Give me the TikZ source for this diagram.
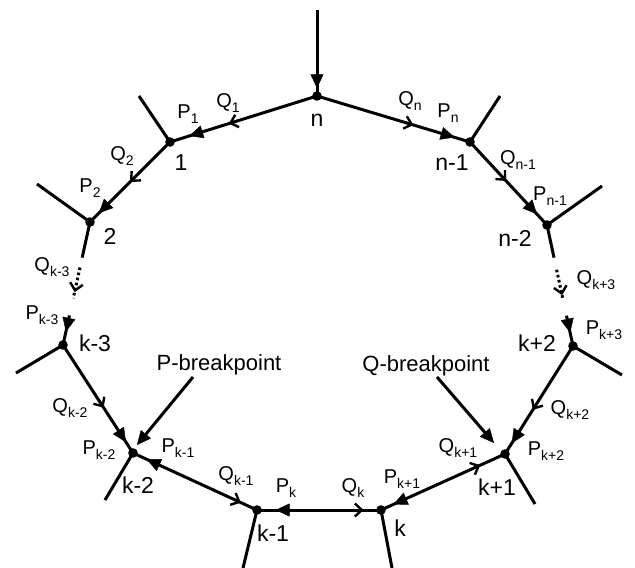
\documentclass[tikz,border=0pt]{standalone}
\usepackage{fontspec}
\setmainfont{Liberation Sans}
\usetikzlibrary{arrows.meta,decorations.markings,calc}

% letter with a lowered, smaller index
\newcommand{\idx}[2]{#1\raisebox{-5pt}{\fontsize{14}{15}\selectfont #2}}

\tikzset{
  ptip/.tip={Triangle[length=14pt,width=13pt,line width=0.4pt]},
  qtip/.tip={Straight Barb[length=7pt,width=13pt,line width=2.4pt]},
  pat/.style={postaction={decorate,decoration={markings,mark=at position #1 with {\arrow{ptip}}}}},
  qat/.style={postaction={decorate,decoration={markings,mark=at position #1 with {\arrow{qtip}}}}},
  prev/.style={postaction={decorate,decoration={markings,mark=at position #1 with {\arrowreversed{ptip}}}}},
  edge/.style={line width=3pt},
  dotseg/.style={line width=3pt,dash pattern=on 2.6pt off 2.6pt},
  elab/.style={font=\fontsize{20}{22}\selectfont,inner sep=0pt},
  vlab/.style={font=\fontsize{23}{26}\selectfont,inner sep=0pt},
  blab/.style={font=\fontsize{22}{24}\selectfont,inner sep=0pt,anchor=base},
  vdot/.style={radius=4.8pt},
}

\begin{document}
\begin{tikzpicture}[x=1pt,y=-1pt]
\useasboundingbox (0,0) rectangle (635,568);

% vertices of the cycle
\coordinate (n)   at (317,96);
\coordinate (v1)  at (170,142);
\coordinate (vn1) at (470,142);
\coordinate (v2)  at (90,222);
\coordinate (vn2) at (547,225);
\coordinate (vk3) at (63,345);
\coordinate (vkp2) at (573,346);
\coordinate (vk2) at (133,453);
\coordinate (vkp1) at (505,454);
\coordinate (vk1) at (257,510);
\coordinate (vk)  at (381,510);

% free ends of the outer edges
\coordinate (top)  at (317,10);
\coordinate (s1)   at (139,96);
\coordinate (sn1)  at (500,96);
\coordinate (s2)   at (37,184);
\coordinate (sn2)  at (602,186);
\coordinate (sk3)  at (16,373);
\coordinate (skp2) at (622,375);
\coordinate (sk2)  at (105,500);
\coordinate (skp1) at (535,504);
\coordinate (sk1)  at (243,568);
\coordinate (sk)   at (392,568);

% outer edges
\draw[edge,pat=0.91] (top) -- (n);
\foreach \a/\b in {v1/s1,vn1/sn1,v2/s2,vn2/sn2,vk3/sk3,vkp2/skp2,vk2/sk2,vkp1/skp1,vk1/sk1,vk/sk}
  \draw[edge] (\a) -- (\b);

% cycle edges
\draw[edge,qat=0.60,pat=0.87] (n) -- (v1);
\draw[edge,qat=0.63,pat=0.90] (n) -- (vn1);
\draw[edge,qat=0.50,pat=0.89] (v1) -- (v2);
\draw[edge,qat=0.47,pat=0.87] (vn1) -- (vn2);
\draw[edge,qat=0.58,pat=0.90] (vk3) -- (vk2);
\draw[edge,qat=0.59,pat=0.90] (vkp2) -- (vkp1);
\draw[edge,qat=0.87,prev=0.11] (vk2) -- (vk1);
\draw[edge,qat=0.86,prev=0.15] (vk1) -- (vk);
\draw[edge,qat=0.80,prev=0.10] (vk) -- (vkp1);

% interrupted edges on both sides
\coordinate (e1) at ($(v2)!0.29!(vk3)$);
\coordinate (e2) at ($(v2)!0.37!(vk3)$);
\coordinate (e3) at ($(v2)!0.62!(vk3)$);
\coordinate (e4) at ($(v2)!0.76!(vk3)$);
\draw[edge] (v2) -- (e1);
\draw[dotseg,qat=0.8] (e2) -- (e3);
\draw[edge,pat=0.55] (e4) -- (vk3);

\coordinate (f1) at ($(vn2)!0.27!(vkp2)$);
\coordinate (f2) at ($(vn2)!0.37!(vkp2)$);
\coordinate (f3) at ($(vn2)!0.62!(vkp2)$);
\coordinate (f4) at ($(vn2)!0.75!(vkp2)$);
\draw[edge] (vn2) -- (f1);
\draw[dotseg,qat=0.84] (f2) -- (f3);
\draw[edge,pat=0.56] (f4) -- (vkp2);

% vertex dots
\foreach \v in {n,v1,vn1,v2,vn2,vk3,vkp2,vk2,vkp1,vk1,vk}
  \fill (\v) circle[vdot];

% breakpoint pointers
\node[blab] (pbt) at (219,370) {P-breakpoint};
\node[blab] (qbt) at (426,371) {Q-breakpoint};
\coordinate (pbs) at (193,377);
\coordinate (pbe) at (137,445);
\coordinate (qbs) at (437,377);
\coordinate (qbe) at (494,443);
\draw[edge,-{Triangle[length=14pt,width=13pt,line width=0.4pt]}] (pbs) -- (pbe);
\draw[edge,-{Triangle[length=14pt,width=13pt,line width=0.4pt]}] (qbs) -- (qbe);

% vertex labels
\node[vlab] (ln)   at (317,120) {n};
\node[vlab] (l1)   at (181,163) {1};
\node[vlab] (ln1)  at (452,163) {n-1};
\node[vlab] (l2)   at (110,236) {2};
\node[vlab] (ln2)  at (515,238) {n-2};
\node[vlab] (lk3)  at (95,343)  {k-3};
\node[vlab] (lkp2) at (537,343) {k+2};
\node[vlab] (lk2)  at (138,485) {k-2};
\node[vlab] (lk1)  at (273,533) {k-1};
\node[vlab] (lk)   at (400,528) {k};
\node[vlab] (lkp1) at (497,487) {k+1};

% edge labels
\node[elab] (q1)   at (228,103) {\idx{Q}{1}};
\node[elab] (p1)   at (188,114) {\idx{P}{1}};
\node[elab] (qn)   at (410,101) {\idx{Q}{n}};
\node[elab] (pn)   at (448,113) {\idx{P}{n}};
\node[elab] (q2)   at (122,156) {\idx{Q}{2}};
\node[elab] (p2)   at (90,188)  {\idx{P}{2}};
\node[elab] (qn1)  at (518,160) {\idx{Q}{n-1}};
\node[elab] (pn1)  at (550,196) {\idx{P}{n-1}};
\node[elab] (qk3)  at (52,267)  {\idx{Q}{k-3}};
\node[elab] (pk3)  at (42,315)  {\idx{P}{k-3}};
\node[elab] (qkp3) at (596,280) {\idx{Q}{k+3}};
\node[elab] (pkp3) at (604,330) {\idx{P}{k+3}};
\node[elab] (qk2)  at (70,408)  {\idx{Q}{k-2}};
\node[elab] (pk2)  at (99,450)  {\idx{P}{k-2}};
\node[elab] (pk1)  at (178,448) {\idx{P}{k-1}};
\node[elab] (qk1)  at (236,476) {\idx{Q}{k-1}};
\node[elab] (pk)   at (286,488) {\idx{P}{k}};
\node[elab] (qk)   at (353,488) {\idx{Q}{k}};
\node[elab] (pkp1) at (402,479) {\idx{P}{k+1}};
\node[elab] (qkp1) at (458,448) {\idx{Q}{k+1}};
\node[elab] (pkp2) at (546,451) {\idx{P}{k+2}};
\node[elab] (qkp2) at (570,410) {\idx{Q}{k+2}};
\end{tikzpicture}
\end{document}
